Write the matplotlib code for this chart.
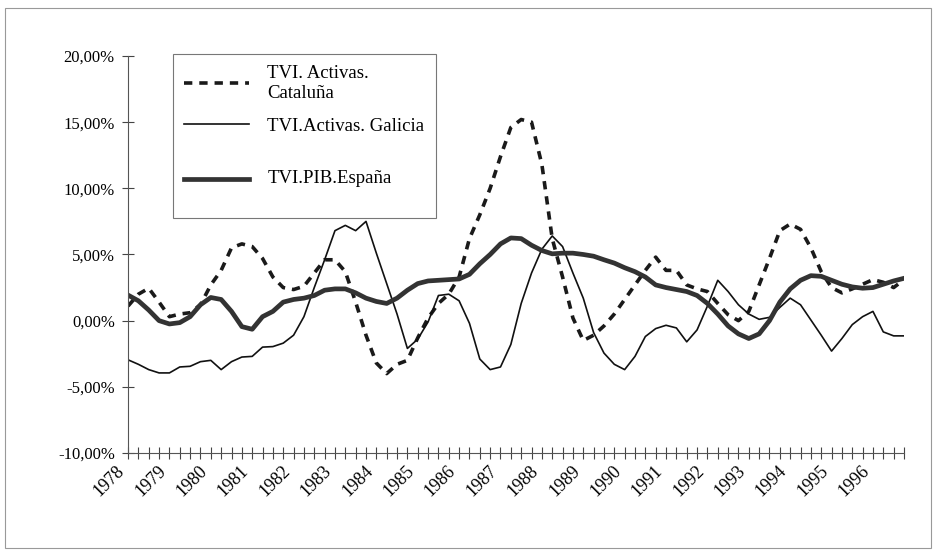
import numpy as np
import matplotlib
matplotlib.use('Agg')
import matplotlib.pyplot as plt
from matplotlib.patches import Rectangle
from matplotlib.ticker import FuncFormatter

plt.rcParams['font.family'] = ['Liberation Serif', 'DejaVu Serif']
plt.rcParams['lines.scale_dashes'] = False

# quarterly series 1978Q1 - 1996Q4, growth rates in %
years = list(range(1978, 1997))
n_quarters = 76

cataluna = [1.1, 2.0, 2.45, 1.4, 0.3, 0.5, 0.6, 1.2,
            2.7, 3.8, 5.5, 5.8, 5.6, 4.7, 3.3, 2.5,
            2.35, 2.6, 3.6, 4.6, 4.6, 3.7, 1.4, -1.1,
            -3.2, -4.0, -3.3, -3.0, -1.3, 0.2, 1.3, 2.0,
            3.3, 6.2, 8.0, 10.0, 12.4, 14.6, 15.2, 15.0,
            11.8, 6.2, 3.3, 0.2, -1.5, -1.1, -0.4, 0.5,
            1.6, 2.7, 3.8, 4.8, 3.8, 3.8, 2.7, 2.4,
            2.2, 1.3, 0.45, 0.0, 0.7, 2.7, 4.7, 6.8,
            7.3, 6.9, 5.5, 3.7, 2.5, 2.1, 2.4, 2.75,
            3.1, 2.9, 2.5, 3.1]

galicia = [-2.96, -3.3, -3.7, -3.95, -3.95, -3.5, -3.45, -3.1,
           -3.0, -3.7, -3.1, -2.75, -2.7, -2.0, -1.96, -1.7,
           -1.1, 0.3, 2.5, 4.6, 6.8, 7.2, 6.8, 7.5,
           5.1, 2.8, 0.5, -2.1, -1.4, -0.1, 1.9, 2.0,
           1.5, -0.2, -2.9, -3.7, -3.5, -1.8, 1.3, 3.6,
           5.4, 6.4, 5.6, 3.6, 1.7, -0.9, -2.45, -3.3,
           -3.7, -2.7, -1.2, -0.6, -0.35, -0.55, -1.6, -0.7,
           1.1, 3.05, 2.2, 1.2, 0.5, 0.1, 0.25, 1.0,
           1.7, 1.2, 0.05, -1.1, -2.3, -1.35, -0.3, 0.3,
           0.7, -0.85, -1.15, -1.15]

pib_espana = [1.93, 1.5, 0.8, 0.0, -0.25, -0.15, 0.3, 1.2,
              1.75, 1.6, 0.7, -0.45, -0.65, 0.3, 0.7, 1.4,
              1.6, 1.7, 1.9, 2.3, 2.4, 2.4, 2.1, 1.7,
              1.45, 1.3, 1.7, 2.3, 2.8, 3.0, 3.05, 3.1,
              3.15, 3.5, 4.3, 5.0, 5.8, 6.25, 6.2, 5.7,
              5.3, 5.05, 5.1, 5.1, 5.0, 4.87, 4.6, 4.35,
              4.0, 3.7, 3.3, 2.7, 2.5, 2.35, 2.2, 1.9,
              1.3, 0.5, -0.4, -1.0, -1.35, -1.0, 0.0, 1.4,
              2.4, 3.05, 3.4, 3.35, 3.05, 2.75, 2.55, 2.45,
              2.5, 2.75, 3.0, 3.2]

# blank lines around the last label give the wider gap seen in the legend
labels = ['TVI. Activas.\nCataluña', 'TVI.Activas. Galicia',
          '\nTVI.PIB.España\n']

x = np.arange(n_quarters)

fig = plt.figure(figsize=(9.36, 5.5), dpi=100)
ax = fig.add_axes([0.1368, 0.1764, 0.829, 0.7218])

ax.plot(x, cataluna, color='#1a1a1a', lw=2.6, dashes=(6, 5), label=labels[0])
ax.plot(x, galicia, color='#111111', lw=1.2, label=labels[1])
ax.plot(x, pib_espana, color='#333333', lw=3.4, label=labels[2])

ax.set_xlim(0, n_quarters - 1)
ax.set_ylim(-10, 20)
ax.set_yticks(np.arange(-10, 21, 5))
ax.yaxis.set_major_formatter(
    FuncFormatter(lambda v, p: f'{v:.2f}'.replace('.', ',') + '%'))

ax.set_xticks(x[::4])
ax.set_xticklabels([str(y) for y in years], rotation=45, ha='right')
ax.set_xticks(x, minor=True)

ax.tick_params(axis='both', which='both', direction='inout', length=9,
               width=0.8, color='#444444')
ax.tick_params(axis='y', pad=5, labelsize=12)
ax.tick_params(axis='x', pad=2, labelsize=13)

for side in ['top', 'right']:
    ax.spines[side].set_visible(False)
for side in ['left', 'bottom']:
    ax.spines[side].set_color('#555555')
    ax.spines[side].set_linewidth(0.8)

leg = ax.legend(loc='upper left', bbox_to_anchor=(0.058, 1.005),
                frameon=True, fancybox=False, edgecolor='#777777',
                framealpha=1, fontsize=13.5, handlelength=3.47,
                handletextpad=0.96, labelspacing=0.85, borderpad=0.6,
                borderaxespad=0)
leg.get_frame().set_linewidth(0.8)

# thin frame around the whole chart
fig.patches.append(Rectangle((0.005, 0.004), 0.99, 0.982,
                             transform=fig.transFigure, fill=False,
                             edgecolor='#999999', lw=0.8))

plt.savefig('out.png', dpi=100)
